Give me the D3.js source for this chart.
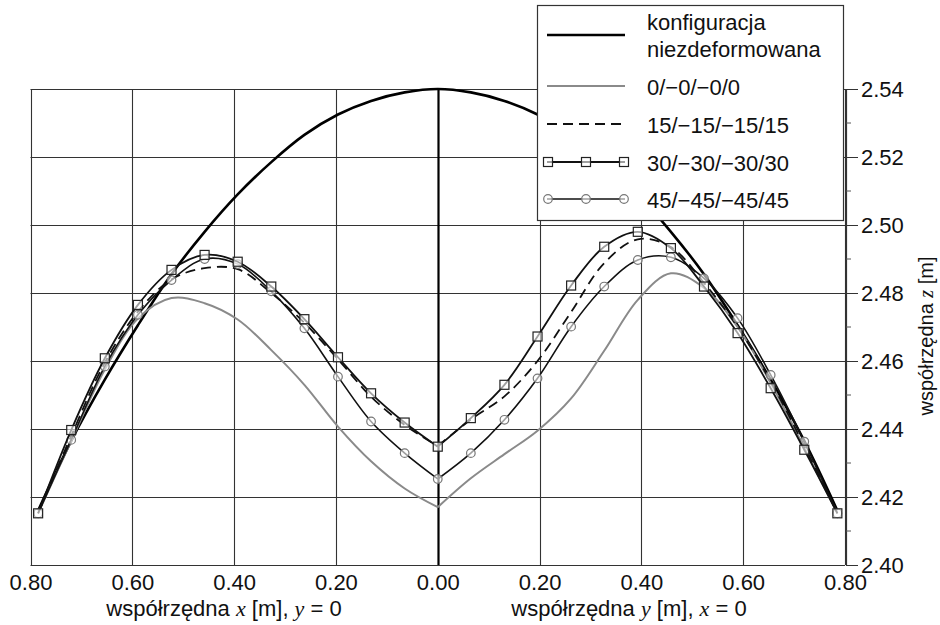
<!DOCTYPE html>
<html>
<head>
<meta charset="utf-8">
<script src="https://cdn.jsdelivr.net/npm/d3@7"></script>
<style>
  body { margin: 0; background: #fff; }
  svg text { font-family: "Liberation Sans", Arial, sans-serif; fill: #111; }
  .var { font-family: "Liberation Serif", "Times New Roman", serif; font-style: italic; }
</style>
</head>
<body>
<div class="canvas"></div>
<script>
// horizontal coordinate: negative = x side (y = 0), positive = y side (x = 0)
const sPos = [-0.785, -0.720, -0.654, -0.589, -0.523, -0.458, -0.393, -0.327, -0.262, -0.196, -0.131, -0.065, 0,
  0.065, 0.131, 0.196, 0.262, 0.327, 0.393, 0.458, 0.523, 0.589, 0.654, 0.720, 0.785];

const undeformed = [2.4160, 2.4365, 2.4545, 2.4705, 2.4855, 2.4980, 2.5090, 2.5185, 2.5265, 2.5325, 2.5365, 2.5390, 2.5400,
  2.5390, 2.5365, 2.5325, 2.5265, 2.5185, 2.5090, 2.4980, 2.4855, 2.4705, 2.4545, 2.4365, 2.4160];
const lam0 = [2.4152, 2.4365, 2.4575, 2.4725, 2.4785, 2.4770, 2.4722, 2.4632, 2.4530, 2.4407, 2.4305, 2.4225, 2.4170,
  2.4255, 2.4326, 2.4395, 2.4490, 2.4630, 2.4780, 2.4858, 2.4815, 2.4700, 2.4535, 2.4345, 2.4152];
const lam15 = [2.4152, 2.4380, 2.4595, 2.4745, 2.4840, 2.4873, 2.4870, 2.4800, 2.4712, 2.4605, 2.4495, 2.4412, 2.4350,
  2.4428, 2.4496, 2.4600, 2.4744, 2.4888, 2.4958, 2.4935, 2.4830, 2.4700, 2.4540, 2.4350, 2.4152];
const lam30 = [2.4152, 2.4397, 2.4608, 2.4765, 2.4868, 2.4912, 2.4892, 2.4819, 2.4723, 2.4611, 2.4505, 2.4419, 2.4348,
  2.4432, 2.4530, 2.4672, 2.4822, 2.4936, 2.4980, 2.4932, 2.4819, 2.4682, 2.4520, 2.4339, 2.4152];
const lam45 = [2.4152, 2.4368, 2.4584, 2.4736, 2.4838, 2.4900, 2.4885, 2.4805, 2.4696, 2.4554, 2.4422, 2.4329, 2.4253,
  2.4329, 2.4427, 2.4549, 2.4701, 2.4819, 2.4897, 2.4905, 2.4843, 2.4726, 2.4559, 2.4363, 2.4152];

const xTicks = [-0.8, -0.6, -0.4, -0.2, 0, 0.2, 0.4, 0.6, 0.8];
const yTicks = [2.40, 2.42, 2.44, 2.46, 2.48, 2.50, 2.52, 2.54];
const yMinor = [2.41, 2.43, 2.45, 2.47, 2.49, 2.51, 2.53];
const legendLabels = ['konfiguracja|niezdeformowana', '0/\u22120/\u22120/0', '15/\u221215/\u221215/15',
  '30/\u221230/\u221230/30', '45/\u221245/\u221245/45'];

const width = 940, height = 625;
const svg = d3.select('.canvas').append('svg')
  .attr('width', width)
  .attr('height', height);

// scales
const x = d3.scaleLinear().domain([-0.8, 0.8]).range([30.5, 845]);
const y = d3.scaleLinear().domain([2.40, 2.54]).range([565, 89]);

// grid
const grid = svg.append('g').attr('stroke', '#333').attr('stroke-width', 1.1);
grid.selectAll('line.h').data(yTicks).enter().append('line')
  .attr('x1', x(-0.8)).attr('x2', x(0.8))
  .attr('y1', d => Math.round(y(d)) + 0.5).attr('y2', d => Math.round(y(d)) + 0.5);
grid.selectAll('line.v').data(xTicks).enter().append('line')
  .attr('x1', d => Math.round(x(d)) + 0.5).attr('x2', d => Math.round(x(d)) + 0.5)
  .attr('y1', y(2.40)).attr('y2', y(2.54))
  .attr('stroke', d => d === 0 ? '#000' : null)
  .attr('stroke-width', d => d === 0 ? 2.2 : null);

// right axis
const yAxis = d3.axisRight(y).tickValues(yTicks).tickSize(12).tickPadding(3)
  .tickFormat(d3.format('.2f'));
const yAxisGroup = svg.append('g').attr('transform', `translate(${x(0.8) + 1},0)`).call(yAxis);
yAxisGroup.select('.domain').attr('stroke', '#333').attr('stroke-width', 1.2);
yAxisGroup.selectAll('.tick line').attr('stroke', '#333');
yAxisGroup.selectAll('text').style('font-size', '22px').attr('fill', '#111');
yAxisGroup.selectAll('.minor').data(yMinor).enter().append('line')
  .attr('class', 'minor')
  .attr('x1', 0).attr('x2', 5)
  .attr('y1', d => y(d)).attr('y2', d => y(d))
  .attr('stroke', '#555');

// bottom labels
const xAxis = d3.axisBottom(x).tickValues(xTicks).tickSize(0).tickPadding(9)
  .tickFormat(d => Math.abs(d).toFixed(2));
const xAxisGroup = svg.append('g').attr('transform', `translate(0,${y(2.40)})`).call(xAxis);
xAxisGroup.select('.domain').remove();
xAxisGroup.selectAll('text').style('font-size', '22px').attr('fill', '#111');

// axis titles
const tLeft = svg.append('text').attr('x', 224).attr('y', 616).attr('text-anchor', 'middle').style('font-size', '22px');
tLeft.append('tspan').text('współrzędna ');
tLeft.append('tspan').attr('class', 'var').text('x');
tLeft.append('tspan').text(' [m], ');
tLeft.append('tspan').attr('class', 'var').text('y');
tLeft.append('tspan').text(' = 0');

const tRight = svg.append('text').attr('x', 629).attr('y', 616).attr('text-anchor', 'middle').style('font-size', '22px');
tRight.append('tspan').text('współrzędna ');
tRight.append('tspan').attr('class', 'var').text('y');
tRight.append('tspan').text(' [m], ');
tRight.append('tspan').attr('class', 'var').text('x');
tRight.append('tspan').text(' = 0');

const tZ = svg.append('text').attr('transform', 'translate(933,336) rotate(-90)')
  .attr('text-anchor', 'middle').style('font-size', '20px');
tZ.append('tspan').text('współrzędna ');
tZ.append('tspan').attr('class', 'var').text('z');
tZ.append('tspan').text(' [m]');

// lines
const pts = arr => arr.map((v, i) => [sPos[i], v]);
const line = d3.line()
  .x(d => x(d[0]))
  .y(d => y(d[1]))
  .curve(d3.curveCatmullRom.alpha(0.5));

const series = [
  { vals: lam0, stroke: '#8a8a8a', width: 2, dash: null, marker: null },
  { vals: lam15, stroke: '#111', width: 1.8, dash: '10,6', marker: null },
  { vals: lam45, stroke: '#111', width: 1.6, dash: null, marker: 'circle' },
  { vals: lam30, stroke: '#111', width: 1.8, dash: null, marker: 'square' }
];

const plot = svg.append('g');
plot.append('path')
  .attr('d', line(pts(undeformed)))
  .attr('fill', 'none').attr('stroke', '#000').attr('stroke-width', 2.6);

series.forEach(s => {
  const p = pts(s.vals);
  [p.slice(0, 13), p.slice(12)].forEach(half => {
    plot.append('path')
      .attr('d', line(half))
      .attr('fill', 'none')
      .attr('stroke', s.stroke)
      .attr('stroke-width', s.width)
      .attr('stroke-dasharray', s.dash);
  });
  if (s.marker === 'square') {
    plot.selectAll(null).data(p).enter().append('rect')
      .attr('x', d => x(d[0]) - 4.5).attr('y', d => y(d[1]) - 4.5)
      .attr('width', 9).attr('height', 9)
      .attr('fill', '#fff').attr('fill-opacity', 0.6)
      .attr('stroke', '#222').attr('stroke-width', 1.2);
  } else if (s.marker === 'circle') {
    plot.selectAll(null).data(p).enter().append('circle')
      .attr('cx', d => x(d[0])).attr('cy', d => y(d[1]))
      .attr('r', 4.3)
      .attr('fill', '#fff').attr('fill-opacity', 0.6)
      .attr('stroke', '#777').attr('stroke-width', 1.2);
  }
});

// legend
const legend = svg.append('g');
legend.append('rect')
  .attr('x', 537.5).attr('y', 5.5).attr('width', 306).attr('height', 215)
  .attr('fill', '#fff').attr('stroke', '#333').attr('stroke-width', 1.2);

const rowY = [35, 86, 124, 162, 199];
const lx1 = 547, lx2 = 625;
legendLabels.forEach((lab, i) => {
  const yy = rowY[i];
  const parts = lab.split('|');
  if (parts.length > 1) {
    legend.append('text').attr('x', 647).attr('y', yy - 13).attr('dy', '0.35em')
      .style('font-size', '22px').text(parts[0]);
    legend.append('text').attr('x', 647).attr('y', yy + 14).attr('dy', '0.35em')
      .style('font-size', '22px').text(parts[1]);
  } else {
    legend.append('text').attr('x', 647).attr('y', yy + 1).attr('dy', '0.35em')
      .style('font-size', '22px').text(lab);
  }
});
const legendStyle = [
  { stroke: '#000', width: 2.6, dash: null, marker: null },
  { stroke: '#8a8a8a', width: 2, dash: null, marker: null },
  { stroke: '#111', width: 1.8, dash: '10,6', marker: null },
  { stroke: '#111', width: 1.8, dash: null, marker: 'square' },
  { stroke: '#111', width: 1.6, dash: null, marker: 'circle' }
];
legendStyle.forEach((st, i) => {
  const yy = rowY[i];
  legend.append('line')
    .attr('x1', lx1).attr('x2', lx2).attr('y1', yy).attr('y2', yy)
    .attr('stroke', st.stroke).attr('stroke-width', st.width)
    .attr('stroke-dasharray', st.dash);
  [lx1 + 1, (lx1 + lx2) / 2, lx2 - 1].forEach(mx => {
    if (st.marker === 'square') {
      legend.append('rect').attr('x', mx - 4.5).attr('y', yy - 4.5).attr('width', 9).attr('height', 9)
        .attr('fill', '#fff').attr('fill-opacity', 0.6).attr('stroke', '#222').attr('stroke-width', 1.2);
    } else if (st.marker === 'circle') {
      legend.append('circle').attr('cx', mx).attr('cy', yy).attr('r', 4.3)
        .attr('fill', '#fff').attr('fill-opacity', 0.6).attr('stroke', '#777').attr('stroke-width', 1.2);
    }
  });
});
</script>
</body>
</html>
